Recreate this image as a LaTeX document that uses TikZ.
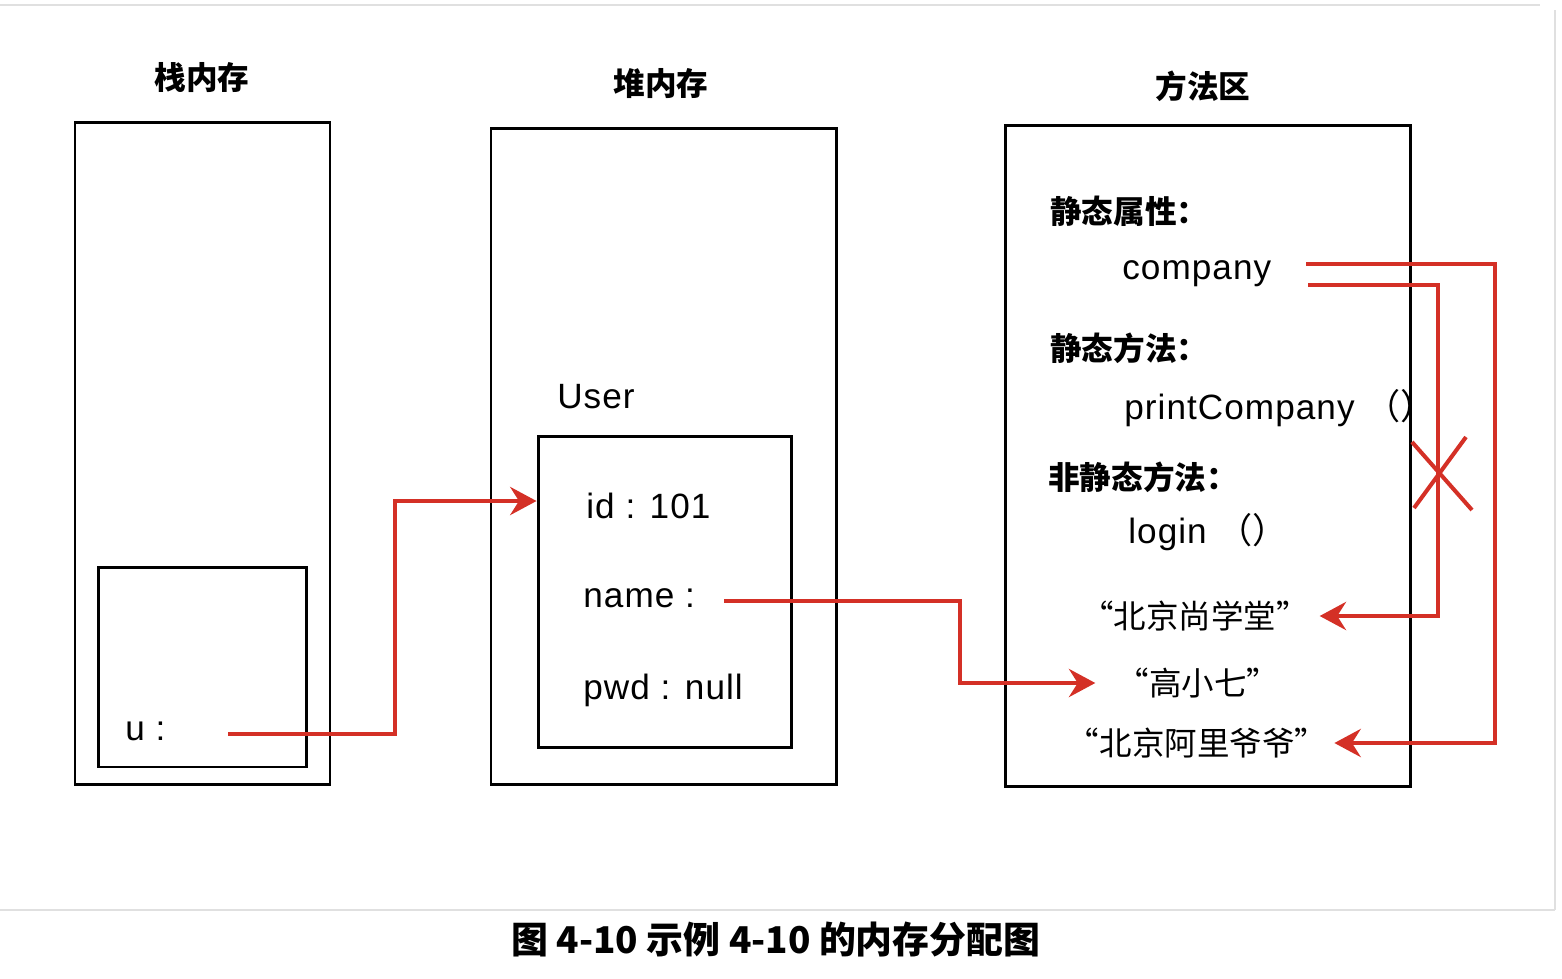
\documentclass[tikz,border=0pt]{standalone}
\usepackage{fontspec}
\setmainfont{Liberation Sans}[LetterSpace=3]
\newfontfamily\cjk{Noto Sans CJK SC}
\usetikzlibrary{calc,positioning,arrows.meta}
\definecolor{ptrred}{RGB}{212,48,38}
\tikzstyle{area} = [rectangle, draw=black, line width=1.7pt, inner sep=0pt]
\tikzstyle{areatitle} = [font=\fontsize{18}{20}\selectfont\cjk\bfseries, inner sep=0pt]
\tikzstyle{field} = [anchor=west, font=\fontsize{20}{22}\selectfont, inner sep=0pt]
\tikzstyle{label} = [anchor=west, font=\fontsize{18}{20}\selectfont\cjk\bfseries, inner sep=0pt]
\tikzstyle{value} = [font=\fontsize{18.5}{20}\selectfont\cjk, inner sep=0pt]
\tikzstyle{arrow} = [ptrred, line width=2.3pt, -{Stealth[length=15pt,width=16pt,inset=5pt]}]
\tikzstyle{redline} = [ptrred, line width=2.3pt]

\begin{document}
\begin{tikzpicture}[x=0.02cm, y=-0.02cm, node distance=2.5cm]
\useasboundingbox (0,0) rectangle (1562,978);
% frame of the page
\draw[black!12, line width=0.8pt] (0,5) -- (1540,5);
\draw[black!12, line width=0.8pt] (1555,10) -- (1555,910);
\draw[black!12, line width=0.8pt] (0,910) -- (1555,910);
% three areas
\draw[area] (75,122) rectangle (330,784);
\draw[area] (491,128) rectangle (836,784);
\draw[area] (1005,125) rectangle (1410,786);
\node (stack) [areatitle] at (202,77) {栈内存};
\node (heap) [areatitle] at (661,83) {堆内存};
\node (method) [areatitle] at (1203,86) {方法区};
% stack
\node (uvar) [area, minimum width=4.18cm, minimum height=4cm] at (202.5,667) {};
\node (u) [field] at (125,731) {u :};
\coordinate (uptr) at (228,734);
% heap
\node (userobj) [area, minimum width=5.08cm, minimum height=6.24cm] at (665,592) {};
\node (user) [field] at (557,397) {User};
\node (id) [field] at (586,506) {id : 101};
\node (name) [field, below=1.84cm of id.west, anchor=west, xshift=-0.06cm] {name :};
\node (pwd) [field, below=1.84cm of name.west, anchor=west] {pwd : null};
\coordinate (nameptr) at (724,601);
% method area
\node (sattr) [label] at (1050,211) {静态属性：};
\node (company) [field] at (1122,274) {company};
\node (smeth) [label] at (1050,348) {静态方法：};
\node (print) [field] at (1124,408) {printCompany {\cjk （）}};
\node (nsmeth) [label] at (1048,477) {非静态方法：};
\node (login) [field] at (1128,532) {login {\cjk （）}};
\node (sxt) [value, inner xsep=6pt] at (1195,616) {“北京尚学堂”};
\node (gxq) [value, inner xsep=12pt] at (1198,683) {“高小七”};
\node (alyy) [value, inner xsep=4pt] at (1197,743) {“北京阿里爷爷”};
\coordinate (co1) at (1306,264);
\coordinate (co2) at (1308,285);
\coordinate (cut) at (1440,473);
% pointers
\draw [arrow] (uptr) -- ++(167,0) |- ([yshift=0.1cm]userobj.west |- id.west);
\draw [arrow] (nameptr) -- ++(236,0) |- (gxq.west);
\draw [arrow] (co1) -- ++(189,0) |- (alyy.east);
\draw [arrow] (co2) -- ++(130,0) |- (sxt.east);
\draw [redline] (cut) +(-28,-31) -- +(32,37);
\draw [redline] (cut) +(-26,35) -- +(26,-36);
% caption
\node (caption) at (776,940) {\fontsize{21}{24}\selectfont\cjk\bfseries 图 4-10\ 示例 4-10 的内存分配图};
\end{tikzpicture}
\end{document}
